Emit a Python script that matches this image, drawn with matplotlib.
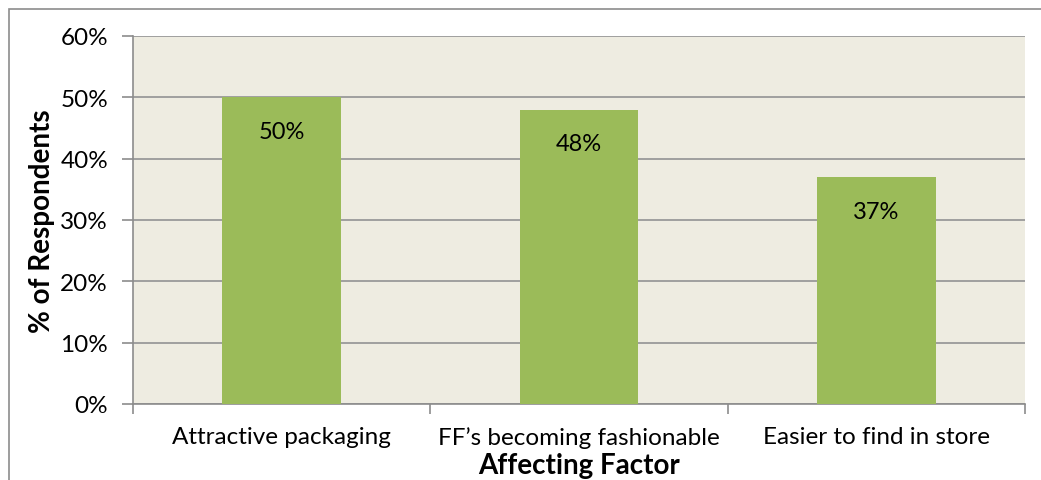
import matplotlib.pyplot as plt
from matplotlib.patches import Rectangle
from matplotlib.ticker import PercentFormatter

factors = ["Attractive packaging", "FF\u2019s becoming fashionable", "Easier to find in store"]
shares = [50, 48, 37]
y_ticks = [0, 10, 20, 30, 40, 50, 60]

plt.rcParams['font.family'] = ['Lato', 'DejaVu Sans']

fig = plt.figure(figsize=(10.41, 4.81), dpi=100)
ax = fig.add_axes([133 / 1041, 1 - 405 / 481, (1025 - 133) / 1041, (405 - 37) / 481])

# outer frame of the chart (left and top edges only)
fig.patches.append(Rectangle((9 / 1041, -0.1), 1.2, 1 - 10 / 481 + 0.1, transform=fig.transFigure,
                             fill=False, edgecolor='#8c8c8c', linewidth=1.2))

ax.set_facecolor('#EEECE1')
x = range(len(factors))
ax.bar(x, shares, width=0.4, color='#9BBB59', zorder=3)

for i, v in enumerate(shares):
    ax.annotate(f"{v}%", (i, v), xytext=(0, -34), textcoords='offset pixels',
                ha='center', va='center', fontsize=17, zorder=4)

ax.set_xlim(-0.5, len(factors) - 0.5)
ax.set_ylim(0, 60)
ax.set_yticks(y_ticks)
ax.yaxis.set_major_formatter(PercentFormatter(decimals=0))
ax.grid(axis='y', color='#999999', linewidth=1.3, zorder=1)

ax.set_xticks(list(x))
ax.set_xticklabels(factors, fontsize=17.5)
ax.set_xticks([-0.5, 0.5, 1.5, 2.5], minor=True)
ax.tick_params(axis='x', which='major', length=0, pad=16)
ax.tick_params(axis='x', which='minor', length=7, color='#8c8c8c', width=1.2)
ax.tick_params(axis='y', length=8, color='#8c8c8c', width=1.2, labelsize=17.5, pad=10)

for side in ['top', 'right']:
    ax.spines[side].set_visible(False)
for side in ['left', 'bottom']:
    ax.spines[side].set_color('#8c8c8c')
    ax.spines[side].set_linewidth(1.2)

ax.set_ylabel('% of Respondents', fontsize=20, fontweight='bold', labelpad=4)
ax.set_xlabel('Affecting Factor', fontsize=20, fontweight='bold', labelpad=3)

fig.savefig('out.png', dpi=100, facecolor='white')
